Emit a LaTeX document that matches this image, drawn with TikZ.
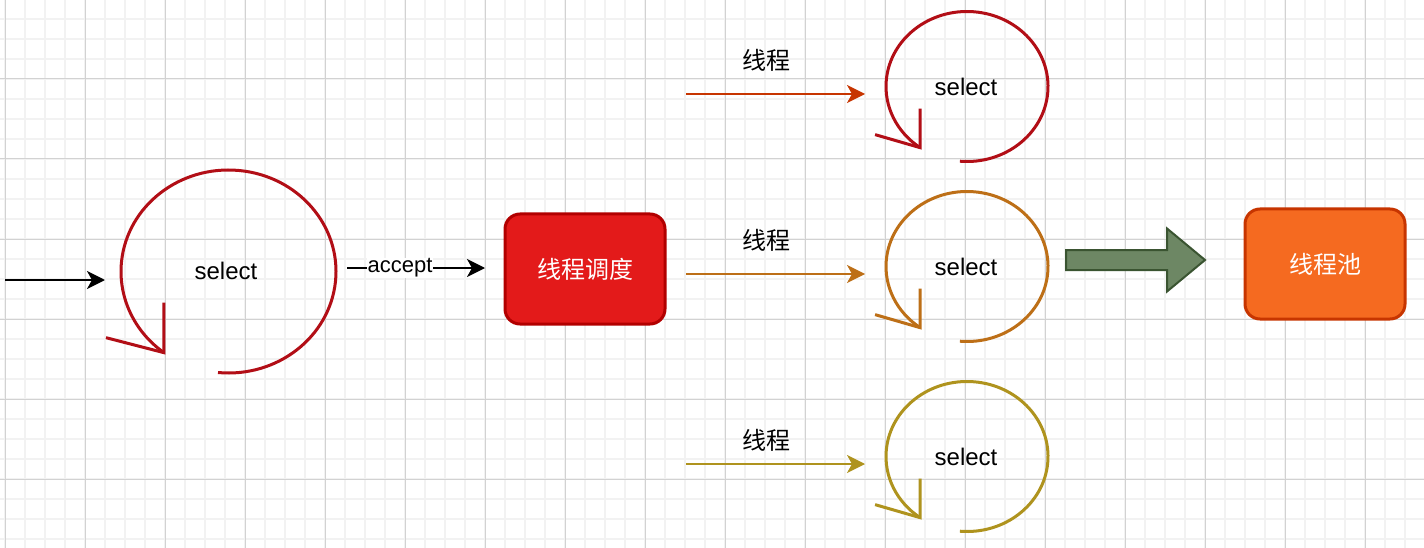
\documentclass[tikz,border=0pt]{standalone}
\usepackage{fontspec}
\setmainfont{Liberation Sans}
\newfontfamily\cjk{Noto Sans CJK SC}
\usetikzlibrary{arrows.meta}
\definecolor{gridminor}{HTML}{F2F2F2}
\definecolor{gridmajor}{HTML}{D2D2D2}
\definecolor{loopred}{HTML}{B20E16}
\definecolor{looporange}{HTML}{BD6F17}
\definecolor{loopyellow}{HTML}{AF931E}
\definecolor{thrred}{HTML}{C73500}
\definecolor{schedfill}{HTML}{E31A1A}
\definecolor{schedline}{HTML}{B20000}
\definecolor{poolfill}{HTML}{F56A20}
\definecolor{poolline}{HTML}{C73500}
\definecolor{greenfill}{HTML}{6D8764}
\definecolor{greenline}{HTML}{3A5431}
\begin{document}
\begin{tikzpicture}[x=1pt,y=-1pt,
  every node/.style={inner sep=0pt,outer sep=0pt},
  minorgrid/.style={draw=gridminor,line width=1.6pt},
  majorgrid/.style={draw=gridmajor,line width=1pt},
  txt/.style={font=\fontsize{24}{28}\selectfont},
  cjktxt/.style={font=\fontsize{24}{28}\selectfont\cjk},
  loopline/.style={line width=3pt,line join=miter,line cap=butt},
  conn/.style={line width=2pt,-{Stealth[length=18pt,width=18pt,inset=5pt]}},
  box/.style={rounded corners=15pt,line width=3pt,minimum width=160pt,minimum height=110pt,text=white,font=\fontsize{24}{28}\selectfont\cjk},
]
\useasboundingbox (0,0) rectangle (1424,548);
\fill[white] (0,0) rectangle (1424,548);
% grid
\foreach \x in {5,25,...,1425} \draw[minorgrid] (\x,0) -- (\x,548);
\foreach \y in {19,39,...,539} \draw[minorgrid] (0,\y) -- (1424,\y);
\foreach \x in {5,85,...,1365} \draw[majorgrid] (\x,0) -- (\x,548);
\foreach \y in {79,159,...,479} \draw[majorgrid] (0,\y) -- (1424,\y);

% big loop
\node[txt] (sel0) at (226,271) {select};
\draw[loopline,draw=loopred] (228.5,271.5) ++(95.6:107.5 and 101.5)
  arc[start angle=95.6,end angle=-233.1,x radius=107.5,y radius=101.5] coordinate (tip0);
\draw[loopline,draw=loopred] (tip0) ++(0,-50) -- (tip0) -- ++(-58,-15);
\coordinate (in0) at (5,280);
\coordinate (in0end) at (105,280);
\draw[conn,black] (in0) -- (in0end);

% scheduler
\node[box,fill=schedfill,draw=schedline] (sched) at (585,269) {线程调度};
\coordinate (acc0) at (347,268);
\coordinate (acc1) at (485,268);
\draw[conn,black] (acc0) -- (acc1) node[pos=0.384,fill=white,inner sep=1pt,txt,font=\fontsize{22}{26}\selectfont] (acclbl) {accept};

% small loops
\foreach \cy/\col/\acol/\ay/\ly/\name in {87/loopred/thrred/94/60/a, 267/looporange/looporange/274/240/b, 457/loopyellow/loopyellow/464/440/c}{
  \node[txt] (sel\name) at (966,\cy) {select};
  \draw[loopline,draw=\col] (967,\cy-0.5) ++(95:81 and 75)
    arc[start angle=95,end angle=-234.6,x radius=81,y radius=75] coordinate (tip\name);
  \draw[loopline,draw=\col] (tip\name) ++(0,-39) -- (tip\name) -- ++(-45,-13);
  \coordinate (ts\name) at (686,\ay);
  \coordinate (te\name) at (865,\ay);
  \draw[conn,draw=\acol,fill=\acol] (ts\name) -- (te\name);
  \node[cjktxt] (lbl\name) at (766,\ly) {线程};
}

% green block arrow
\draw[fill=greenfill,draw=greenline,line width=2pt,line join=miter]
  (1066,250) -- (1167,250) -- (1167,228.5) -- (1205,260) -- (1167,291.5) -- (1167,270) -- (1066,270) -- cycle;

% pool
\node[box,fill=poolfill,draw=poolline] (pool) at (1325,264) {\raisebox{-3pt}{线程池}};
\end{tikzpicture}
\end{document}
